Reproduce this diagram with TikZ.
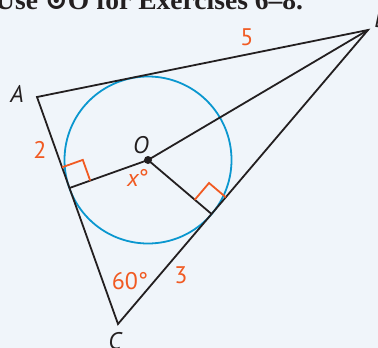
\documentclass[tikz,border=0pt]{standalone}
\usepackage{fontspec}
\setmainfont{PT Sans}
\newfontfamily\headfont{Liberation Serif}
\newfontfamily\symfont{DejaVu Serif}
\usetikzlibrary{calc}
\definecolor{bg}{HTML}{F0F5FA}
\definecolor{ink}{HTML}{231F20}
\definecolor{circ}{HTML}{0A97CF}
\definecolor{orng}{HTML}{F15A22}
\begin{document}
\begin{tikzpicture}[x=1pt,y=-1pt,
  seg/.style={draw=ink, line width=1.8pt},
  mk/.style={draw=orng, line width=1.8pt},
  lbl/.style={font=\fontsize{24}{24}\selectfont\itshape, text=ink, inner sep=0pt},
  num/.style={font=\fontsize{24}{24}\selectfont, text=orng, inner sep=0pt}]
\fill[bg] (0,0) rectangle (378,348);
\useasboundingbox (0,0) rectangle (378,348);

\coordinate (A) at (37,97);
\coordinate (B) at (368,30);
\coordinate (C) at (118,324);
\coordinate (O) at (148,160);
\coordinate (P) at ($(A)!(O)!(C)$);
\coordinate (Q) at ($(B)!(O)!(C)$);

\draw[circ, line width=1.8pt] (O) circle (83.5);
\draw[seg, line join=miter] (A) -- (B) -- (C) -- cycle;
\draw[seg] (O) -- (B);
\draw[seg] (O) -- (P);
\draw[seg] (O) -- (Q);

\draw[mk] ($(P)!22pt!(A)$) -- ($(P)!22pt!(A) + (P)!22pt!(O) - (P)$) -- ($(P)!22pt!(O)$);
\draw[mk] ($(Q)!22pt!(B)$) -- ($(Q)!22pt!(B) + (Q)!22pt!(O) - (Q)$) -- ($(Q)!22pt!(O)$);

\fill[ink] (O) circle (4);

\node[anchor=base west, inner sep=0pt, text=ink] (hdr) at (-5,9.5)
  {\scalebox{1.02}[1]{\headfont\bfseries\fontsize{27}{27}\selectfont Use {\symfont\bfseries ⊙}O for Exercises 6–8.}};

\node[lbl] (lA) at (17,93.5) {A};
\node[lbl] (lB) at (381,19) {B};
\node[lbl] (lC) at (115,341) {C};
\node[lbl] (lO) at (141,145) {O};
\node[num] (l5) at (247,37.5) {5};
\node[num] (l2) at (40,150) {2};
\node[num] (l3) at (181,275.5) {3};
\node[num] (l60) at (130,281) {60°};
\node[num] (lx) at (138,178) {\itshape x\upshape°};
\end{tikzpicture}
\end{document}
